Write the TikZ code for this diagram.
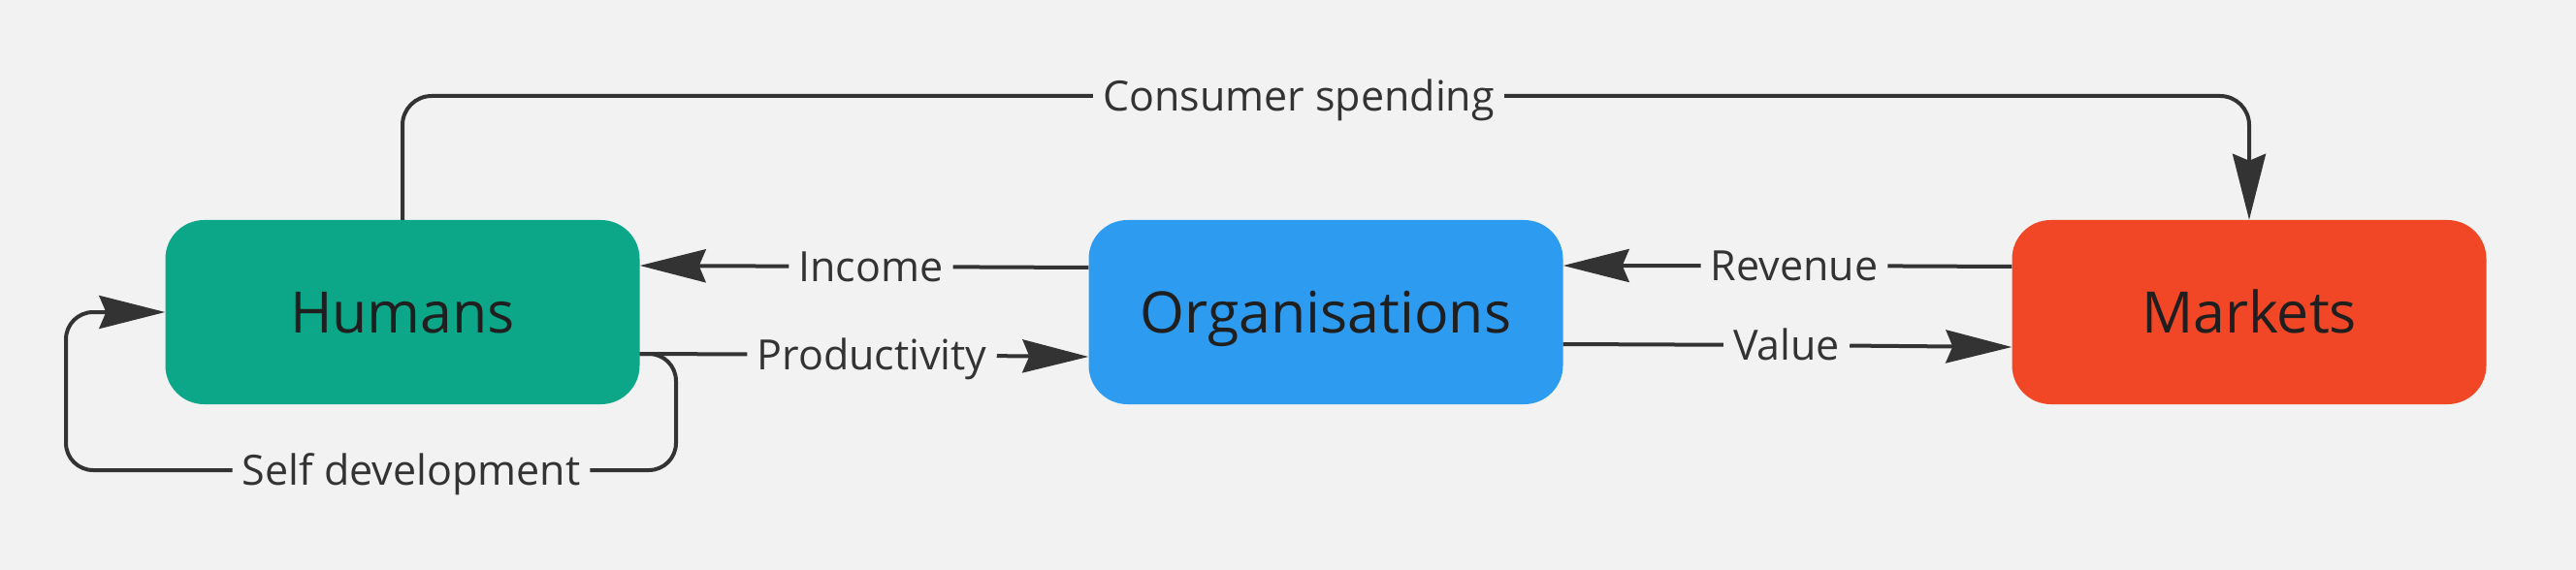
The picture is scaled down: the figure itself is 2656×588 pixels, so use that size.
\documentclass[tikz,border=0pt]{standalone}
\usepackage{fontspec}
\setmainfont{Open Sans}
\usepackage{xcolor}
\usetikzlibrary{calc,arrows.meta}

\definecolor{bg}{HTML}{F2F2F2}
\definecolor{wirecol}{HTML}{333333}
\definecolor{boxtext}{HTML}{1F1F1F}
\definecolor{teal}{HTML}{0CA789}
\definecolor{sky}{HTML}{2D9BF0}
\definecolor{tomato}{HTML}{F24726}

\begin{document}
\begin{tikzpicture}[x=1pt,y=-1pt,
    box/.style={rounded corners=40pt, minimum width=489pt, minimum height=190pt,
      text height=42pt, text depth=0pt, font=\fontsize{59}{70}\selectfont, text=boxtext},
    lbl/.style={inner xsep=10pt, inner ysep=0pt, text height=31pt, text depth=0pt,
      font=\fontsize{43}{50}\selectfont, text=wirecol},
    wire/.style={draw=wirecol, line width=4pt},
    flow/.style={wire, -{Stealth[length=68pt,width=34pt,inset=7pt]}}]
      \def\ry{322}

      \fill[bg] (0,0) rectangle (2656,588);

      % Boxes
      \node[box, fill=teal] (hum) at (415,\ry) {Humans};
      \node[box, fill=sky] (org) at (1367,\ry) {Organisations};
      \node[box, fill=tomato] (mkt) at (2319,\ry) {Markets};

      % Labels
      \node[lbl] (cs) at (1339,99) {Consumer spending};
      \node[lbl] (inc) at (898,275) {Income};
      \node[lbl] (prod) at (899,366) {Productivity};
      \node[lbl] (rev) at (1850,274) {Revenue};
      \node[lbl] (val) at (1842,356) {Value};
      \node[lbl] (sd) at (424,485) {Self development};

      \coordinate (sdR) at (697,485);
      \coordinate (sdL) at (68,485);

      % Flows
      \draw[wire, rounded corners=30pt] (hum.north) |- (cs.west);
      \draw[flow, rounded corners=30pt] (cs.east) -| (mkt.north);

      \draw[flow] ([yshift=46pt]org.west) -- (inc) -- ([yshift=48pt]hum.east);
      \draw[flow] ([yshift=-43pt]hum.east) -- (prod) -- ([yshift=-46pt]org.west);
      \draw[flow] ([yshift=47pt]mkt.west) -- (rev) -- ([yshift=48pt]org.east);
      \draw[flow] ([yshift=-33pt]org.east) -- (val) -- ([yshift=-36pt]mkt.west);

      \draw[wire, rounded corners=28pt] ([yshift=-43pt]hum.east) -| (sdR) -- (sd.east);
      \draw[flow, rounded corners=28pt] (sd.west) -- (sdL) |- (hum.west);
    \end{tikzpicture}
\end{document}
